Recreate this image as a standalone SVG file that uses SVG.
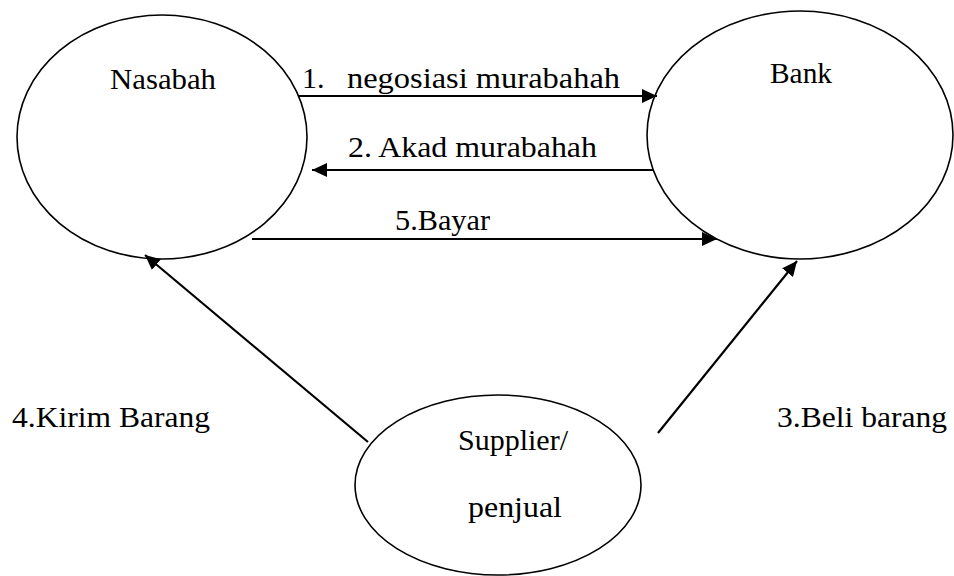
<svg xmlns="http://www.w3.org/2000/svg" width="954" height="576" viewBox="0 0 954 576">
<style>
.node{fill:#fff;stroke:#000;stroke-width:1.6}
.lbl{font-family:'Liberation Serif','DejaVu Serif',serif;font-size:30px;fill:#000}
.conn{stroke:#000;stroke-width:2.2;fill:none;marker-end:url(#ah)}
</style>
<defs>
<marker id="ah" markerUnits="userSpaceOnUse" markerWidth="16" markerHeight="14" refX="15" refY="7" orient="auto">
<path d="M0,0 L15,7 L0,14 z" fill="#000"/>
</marker>
</defs>
<rect width="954" height="576" fill="#fff"/>
<g id="nasabah">
<ellipse class="node" cx="162" cy="137" rx="145" ry="122"/>
<text class="lbl" font-family="Liberation Serif, serif" x="110" y="89" textLength="106" lengthAdjust="spacingAndGlyphs">Nasabah</text>
</g>
<g id="bank">
<ellipse class="node" cx="800" cy="135" rx="153" ry="124"/>
<text class="lbl" x="770" y="83" textLength="62" lengthAdjust="spacingAndGlyphs">Bank</text>
</g>
<g id="supplier">
<ellipse class="node" cx="498" cy="485" rx="143" ry="90"/>
<text class="lbl" x="458" y="450" textLength="110" lengthAdjust="spacingAndGlyphs">Supplier/</text>
<text class="lbl" x="468" y="517" textLength="94" lengthAdjust="spacingAndGlyphs">penjual</text>
</g>
<g id="connectors">
<line class="conn" x1="298" y1="96" x2="657" y2="96"/>
<line class="conn" x1="653" y1="170" x2="312" y2="170"/>
<line class="conn" x1="252" y1="239" x2="717" y2="239"/>
<line class="conn" x1="368" y1="442" x2="145" y2="255"/>
<line class="conn" x1="658" y1="433" x2="797" y2="261"/>
<text class="lbl" y="88"><tspan x="302">1.</tspan><tspan x="347" textLength="273" lengthAdjust="spacingAndGlyphs">negosiasi murabahah</tspan></text>
<text class="lbl" x="348" y="157" textLength="249" lengthAdjust="spacingAndGlyphs">2. Akad murabahah</text>
<text class="lbl" x="395" y="230" textLength="95" lengthAdjust="spacingAndGlyphs">5.Bayar</text>
<text class="lbl" x="12" y="427" textLength="198" lengthAdjust="spacingAndGlyphs">4.Kirim Barang</text>
<text class="lbl" x="777" y="427" textLength="170" lengthAdjust="spacingAndGlyphs">3.Beli barang</text>
</g>
</svg>
